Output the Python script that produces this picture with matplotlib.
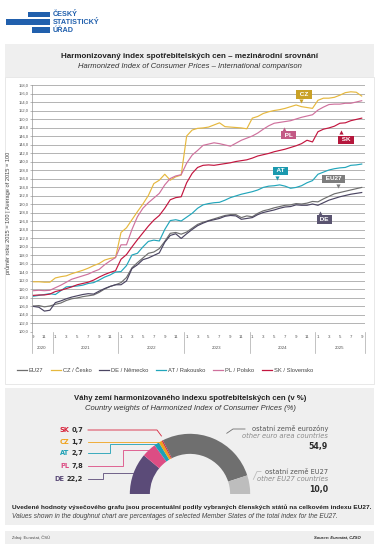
import matplotlib
matplotlib.use("Agg")
import matplotlib.pyplot as plt
import matplotlib.transforms as mtransforms
from matplotlib.patches import Rectangle
from matplotlib.lines import Line2D
import numpy as np

plt.rcParams.update({
    "font.family": ["Liberation Sans", "DejaVu Sans"],
    "axes.unicode_minus": False,
})

W, H = 379, 546

# měsíční řada: 0 = září 2020 ... 60 = září 2025
start_month = 9
start_year = 2020
n_months = 61

eu27 = [106.0, 106.1, 105.8, 106.0, 106.4, 106.7, 107.3, 107.7, 107.9, 108.2,
        108.4, 108.6, 109.2, 110.0, 110.6, 111.0, 111.5, 112.7, 115.0, 116.2,
        117.3, 118.4, 118.7, 119.5, 121.2, 123.1, 123.3, 122.9, 123.4, 124.3,
        125.2, 125.7, 126.1, 126.5, 126.9, 127.3, 127.5, 127.5, 126.8, 127.2,
        127.0, 127.8, 128.4, 128.7, 129.1, 129.4, 129.7, 129.8, 130.1, 130.0,
        130.2, 130.6, 130.5, 131.2, 131.8, 132.4, 132.7, 133.0, 133.3, 133.6,
        133.9]
cz = [111.7, 111.7, 111.6, 111.6, 112.6, 112.9, 113.1, 113.6, 114.0, 114.4,
      114.9, 115.5, 116.0, 116.8, 117.2, 117.4, 123.3, 124.4, 126.3, 128.2,
      130.0, 132.0, 134.8, 135.6, 137.0, 135.6, 136.4, 136.8, 146.0, 147.4,
      147.8, 147.9, 148.1, 148.6, 149.1, 148.2, 148.1, 148.0, 147.9, 147.7,
      150.2, 150.6, 151.3, 151.7, 152.0, 152.2, 152.5, 152.9, 153.3, 152.9,
      152.7, 152.5, 154.4, 154.9, 154.9, 155.1, 155.6, 156.2, 156.4, 156.3,
      155.4]
de = [105.9, 105.7, 104.8, 105.0, 106.8, 107.2, 107.7, 108.1, 108.4, 108.7,
      108.9, 108.8, 109.5, 110.1, 110.6, 111.0, 111.0, 111.9, 114.8, 115.7,
      116.9, 117.3, 117.9, 118.5, 121.0, 122.6, 123.0, 121.9, 123.0, 124.0,
      124.9, 125.5, 126.0, 126.3, 126.6, 127.1, 127.3, 127.2, 126.4, 126.6,
      126.8, 127.5, 128.0, 128.3, 128.6, 129.0, 129.3, 129.4, 129.8, 129.7,
      129.7, 130.0, 129.7, 130.3, 130.9, 131.3, 131.7, 132.0, 132.3, 132.5,
      132.7]
at = [108.3, 108.5, 108.7, 108.9, 108.7, 109.6, 110.5, 110.6, 110.7, 110.9,
      111.3, 111.5, 112.1, 112.8, 113.3, 114.0, 114.1, 115.5, 118.0, 118.4,
      119.9, 121.2, 121.5, 121.3, 124.0, 126.1, 126.3, 126.0, 126.9, 127.8,
      129.0, 129.8, 130.1, 130.3, 130.4, 130.9, 131.5, 131.9, 132.3, 132.6,
      132.9, 133.3, 133.9, 134.2, 134.3, 134.5, 134.2, 133.7, 133.9, 134.3,
      135.0, 135.5, 137.0, 137.5, 138.0, 138.3, 138.5, 138.6, 139.1, 139.2,
      139.4]
pl = [109.6, 109.7, 109.6, 109.7, 110.3, 110.9, 111.6, 112.3, 112.7, 113.1,
      113.5, 114.1, 114.6, 115.7, 116.6, 117.4, 120.4, 120.4, 124.0, 127.0,
      129.0, 130.3, 131.4, 132.5, 134.5, 136.0, 136.6, 136.9, 139.6, 141.5,
      142.6, 143.8, 144.1, 144.4, 144.2, 143.9, 143.6, 144.3, 145.0, 145.5,
      146.0, 146.7, 147.6, 148.4, 149.0, 149.2, 149.4, 149.6, 150.0, 150.4,
      150.7, 151.0, 152.1, 152.8, 153.4, 153.5, 153.5, 153.7, 153.7, 154.0,
      154.3]
sk = [108.5, 108.6, 108.6, 108.8, 109.4, 109.7, 110.1, 110.5, 111.0, 111.3,
      111.6, 112.1, 112.8, 113.4, 113.9, 114.3, 117.0, 118.1, 119.9, 121.6,
      123.2, 124.8, 126.2, 127.3, 129.0, 131.0, 131.5, 131.7, 135.0, 137.2,
      138.6, 139.1, 139.2, 139.1, 139.3, 139.5, 139.7, 140.0, 140.2, 140.4,
      140.8, 141.3, 141.6, 141.9, 142.3, 142.6, 142.9, 143.3, 143.7, 144.2,
      145.0, 144.6, 147.0, 147.6, 147.9, 148.3, 149.0, 149.1, 149.6, 149.9,
      150.2]

series_names = ["EU27", "CZ / Česko", "DE / Německo", "AT / Rakousko",
                "PL / Polsko", "SK / Slovensko"]
series_values = [eu27, cz, de, at, pl, sk]
series_colors = ["#6e6e6e", "#e6b83e", "#4b4562", "#22a6bb", "#cf719d", "#c3163f"]

# štítky u křivek: text, střed štítku (měsíc, hodnota), hrot (měsíc, hodnota)
tag_texts = ["CZ", "PL", "SK", "AT", "EU27", "DE"]
tag_colors = ["#c9a127", "#c35a86", "#b5173c", "#1b99ae", "#7d7d7d", "#5a5470"]
tag_centers = [(49.5, 155.8), (46.7, 146.2), (57.1, 145.1), (45.2, 137.8),
               (54.8, 135.9), (53.2, 126.4)]
tag_tips = [(48.9, 153.8), (45.8, 148.1), (56.3, 147.4), (44.5, 135.6),
            (55.6, 133.8), (52.4, 128.4)]

# váhy zemí v indexu EU27 (%)
weight_codes = ["DE", "PL", "AT", "CZ", "SK"]
weight_values = [22.2, 7.8, 2.7, 1.7, 0.7]
weight_colors = ["#5b4b78", "#dc4d84", "#1ca0b5", "#f0a21c", "#d8243c"]
other_euro = 54.9
other_eu = 10.0
other_colors = ["#6f6f6f", "#bdbdbd"]


def fx(x):
    return x / W


def fy(y):
    return 1 - y / H


def fmt(v):
    return f"{v:.1f}".replace(".", ",")


fig = plt.figure(figsize=(W / 100, H / 100), dpi=100)
fig.patch.set_facecolor("white")


def box(x0, y0, x1, y1, **kw):
    fig.patches.append(Rectangle((fx(x0), fy(y1)), (x1 - x0) / W, (y1 - y0) / H,
                                 transform=fig.transFigure, zorder=-5, **kw))


def seg(points, color, lw=0.6):
    xs = [fx(p[0]) for p in points]
    ys = [fy(p[1]) for p in points]
    fig.add_artist(Line2D(xs, ys, transform=fig.transFigure, color=color, lw=lw,
                          solid_joinstyle="miter"))


# logo
blue = "#2160ad"
box(28, 12, 50, 17, fc=blue, ec="none")
box(6, 19, 50, 25, fc=blue, ec="none")
box(32, 27, 50, 33, fc=blue, ec="none")
for txt, yy in zip(["ČESKÝ", "STATISTICKÝ", "ÚŘAD"], [14.5, 22.5, 30.5]):
    fig.text(fx(52.5), fy(yy), txt, fontsize=5.2, fontweight="bold", color=blue,
             ha="left", va="center")

# hlavička grafu
box(5, 44, 374, 77, fc="#efefef", ec="none")
fig.text(fx(190), fy(56), "Harmonizovaný index spotřebitelských cen – mezinárodní srovnání",
         fontsize=5.75, fontweight="bold", color="#222", ha="center", va="center")
fig.text(fx(190), fy(66), "Harmonized Index of Consumer Prices – International comparison",
         fontsize=5.5, style="italic", color="#333", ha="center", va="center")
box(5, 77, 374, 384, fill=False, ec="#e4e4e4", lw=0.6)

# čárový graf
ax = fig.add_axes([fx(32), fy(331.5), (365 - 32) / W, (331.5 - 85) / H])
x = np.arange(n_months)
for name, vals, col in zip(series_names, series_values, series_colors):
    ax.plot(x, vals, color=col, lw=0.85, solid_joinstyle="round", zorder=3)

ax.set_ylim(100, 158)
ax.set_xlim(-0.27, 60.6)
yt = np.arange(100, 158.1, 2)
ax.set_yticks(yt)
ax.set_yticklabels([fmt(v) for v in yt], fontsize=2.9, color="#555")
ax.tick_params(axis="y", length=1.6, width=0.4, color="#888", pad=1)
ax.grid(axis="y", color="#b3b3b3", lw=0.7)
ax.set_axisbelow(True)
for s in ["top", "right", "bottom"]:
    ax.spines[s].set_visible(False)
ax.spines["left"].set_color("#999")
ax.spines["left"].set_linewidth(0.5)

months = [(start_month - 1 + i) % 12 + 1 for i in range(n_months)]
yrs = [start_year + (start_month - 1 + i) // 12 for i in range(n_months)]
odd = [i for i in range(n_months) if months[i] % 2 == 1]
ax.set_xticks(odd)
ax.set_xticklabels([str(months[i]) for i in odd])
ax.tick_params(axis="x", length=0, pad=2.5, labelsize=3.2, labelcolor="#555")

trans = mtransforms.blended_transform_factory(ax.transData, ax.transAxes)
year_list = sorted(set(yrs))
seps = [ax.get_xlim()[0]]
for yv in year_list:
    idx = [i for i in range(n_months) if yrs[i] == yv]
    ax.text((idx[0] + idx[-1]) / 2, -0.068, str(yv), transform=trans, ha="center",
            va="center", fontsize=3.2, color="#555")
    seps.append(idx[-1] + 0.5)
seps[-1] = ax.get_xlim()[1]
for s in seps:
    ax.plot([s, s], [0, -0.088], transform=trans, color="#aaa", lw=0.5, clip_on=False)

fig.text(fx(8), fy(213), "průměr roku 2015 = 100 | Average of 2015 = 100", rotation=90,
         fontsize=4.1, color="#444", ha="center", va="center")

for t, col, (cx_, cy_), (tx_, ty_) in zip(tag_texts, tag_colors, tag_centers, tag_tips):
    ax.text(cx_, cy_, f" {t} ", fontsize=4.6, fontweight="bold", color="white",
            ha="center", va="center", zorder=6,
            bbox=dict(boxstyle="square,pad=0.28", fc=col, ec="none"))
    down = ty_ < cy_
    ax.plot(tx_, ty_ + (0.55 if down else -0.55), marker="v" if down else "^",
            ms=3.0, color=col, mec="none", zorder=6)

handles = [Line2D([], [], color=c, lw=0.9) for c in series_colors]
leg = fig.legend(handles, series_names, loc="center left", bbox_to_anchor=(fx(17), fy(370)),
                 ncol=6, frameon=False, fontsize=4.15, handlelength=1.7,
                 handletextpad=0.35, columnspacing=1.35, borderaxespad=0, borderpad=0)
for t in leg.get_texts():
    t.set_color("#444")

# váhy – půlkruhový prstenec
box(5, 388, 374, 525, fc="#efefef", ec="none")
fig.text(fx(190), fy(398), "Váhy zemí harmonizovaného indexu spotřebitelských cen (v %)",
         fontsize=5.6, fontweight="bold", color="#222", ha="center", va="center")
fig.text(fx(190), fy(409), "Country weights of Harmonized Index of Consumer Prices (%)",
         fontsize=5.5, style="italic", color="#333", ha="center", va="center")

pie_vals = weight_values + [other_euro, other_eu]
pie_cols = weight_colors + other_colors
pax = fig.add_axes([fx(125), fy(497), 130 / W, 68 / H])
pax.patch.set_visible(False)
wedges, _ = pax.pie(pie_vals + [sum(pie_vals)], colors=pie_cols + ["white"],
                    startangle=180, counterclock=False, radius=1,
                    wedgeprops=dict(width=1 / 3, edgecolor="none", linewidth=0))
wedges[-1].set_visible(False)
pax.set_xlim(-1.08, 1.08)
pax.set_ylim(-0.05, 1.08)
pax.axis("off")

pc_x = 125 + 1.08 / 2.16 * 130
pc_y = 497 - 0.05 / 1.13 * 68
pr = 130 / 2.16


def pie_pt(theta, r=1.0):
    a = np.deg2rad(theta)
    return (pc_x + r * pr * np.cos(a), pc_y - r * pr * np.sin(a))


cum = np.cumsum([0] + pie_vals)
mids = [180 - 180 * (cum[k] + cum[k + 1]) / 200 for k in range(len(pie_vals))]

renderer = fig.canvas.get_renderer()
row_y = {"SK": 430, "CZ": 441.7, "AT": 453.3, "PL": 466, "DE": 479}
elbow_x = {"SK": 157, "CZ": None, "AT": 110, "PL": 123, "DE": 103}
for k, (code, val, col) in enumerate(zip(weight_codes, weight_values, weight_colors)):
    yy = row_y[code]
    tv = fig.text(fx(83), fy(yy), fmt(val), fontsize=4.8, fontweight="bold",
                  family="DejaVu Sans", color="#2a2a2a", ha="right", va="center")
    ext = tv.get_window_extent(renderer)
    fig.text(ext.x0 / W - 2 / W, fy(yy), code, fontsize=4.8, fontweight="bold",
             family="DejaVu Sans", color=col, ha="right", va="center")
    anchor = pie_pt(mids[k], 1.03 if code == "SK" else 1.0)
    ex = elbow_x[code]
    if code == "SK":
        pts = [(88, yy), (ex, yy), (anchor[0], anchor[1] - 3)]
    elif ex is None:
        pts = [(88, yy), (anchor[0], yy)]
    else:
        pts = [(88, yy), (ex, yy), (ex, anchor[1]), anchor]
    seg(pts, col)

# ostatní země
p0 = pie_pt(58.8, 1.18)
seg([p0, (233, 429), (245, 429)], other_colors[0])
p1 = pie_pt(13, 1.08)
seg([p1, (257, 471.5), (261, 471.5)], other_colors[1])
right_blocks = [(["ostatní země eurozóny", "other euro area countries", fmt(other_euro)], 429),
                (["ostatní země EU27", "other EU27 countries", fmt(other_eu)], 471.7)]
for (l1, l2, l3), y0 in right_blocks:
    fig.text(fx(328), fy(y0), l1, fontsize=4.75, family="DejaVu Sans", color="#555",
             ha="right", va="center")
    fig.text(fx(328), fy(y0 + 7.5), l2, fontsize=4.9, family="DejaVu Sans", style="italic",
             color="#8a8a8a", ha="right", va="center")
    fig.text(fx(328), fy(y0 + 18), l3, fontsize=5.6, family="DejaVu Sans", fontweight="bold",
             color="#2a2a2a", ha="right", va="center")

fig.text(fx(12), fy(507.5), "Uvedené hodnoty výsečového grafu jsou procentuální podíly vybraných "
         "členských států na celkovém indexu EU27.", fontsize=4.65, fontweight="bold",
         color="#222", ha="left", va="center")
fig.text(fx(12), fy(517), "Values shown in the doughnut chart are percentages of selected "
         "Member States of the total index for the EU27.", fontsize=4.75, style="italic",
         color="#444", ha="left", va="center")

# zápatí
box(5, 531, 374, 544, fc="#efefef", ec="none")
fig.text(fx(12), fy(537.5), "Zdroj: Eurostat, ČSÚ", fontsize=3.0, color="#444",
         ha="left", va="center")
fig.text(fx(361), fy(537.5), "Source: Eurostat, CZSO", fontsize=3.0, color="#222",
         fontweight="bold", style="italic", ha="right", va="center")

fig.savefig("out.png", dpi=100)
